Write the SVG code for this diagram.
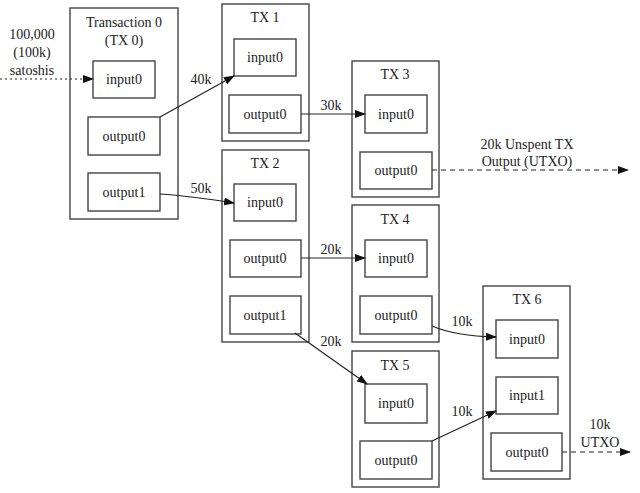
<svg xmlns="http://www.w3.org/2000/svg" width="640" height="493" viewBox="0 0 640 493" font-family="'Liberation Serif', 'Times New Roman', 'DejaVu Serif', serif">
<defs>
<marker id="ah" markerWidth="11" markerHeight="8" refX="10" refY="4" orient="auto" markerUnits="userSpaceOnUse">
<path d="M0,0 L11,4 L0,8 Z" fill="#111"/>
</marker>
<style>
.tx{fill:#fff;stroke:#444;stroke-width:1.4}
.port{fill:#fff;stroke:#444;stroke-width:1.4}
text{font-family:'Liberation Serif','Times New Roman','DejaVu Serif',serif;font-size:14px;fill:#222;text-anchor:middle}
.e{fill:none;stroke:#222;stroke-width:1.2;marker-end:url(#ah)}
.dot{stroke-dasharray:2,3}
.dash{stroke-dasharray:5,4}
</style>
</defs>
<rect width="640" height="493" fill="#fff"/>

<g id="tx0">
<rect class="tx" x="70" y="8" width="108" height="211"/>
<text x="124" y="27">Transaction 0</text>
<text x="124" y="45">(TX 0)</text>
<g id="tx0-input0"><rect class="port" x="93" y="61" width="62" height="37"/><text x="124" y="84">input0</text></g>
<g id="tx0-output0"><rect class="port" x="88" y="117" width="72" height="38"/><text x="124" y="141">output0</text></g>
<g id="tx0-output1"><rect class="port" x="88" y="173" width="72" height="38"/><text x="124" y="197">output1</text></g>
</g>

<g id="tx1">
<rect class="tx" x="222" y="4" width="87" height="137"/>
<text x="265" y="22">TX 1</text>
<g id="tx1-input0"><rect class="port" x="234" y="39" width="62" height="37"/><text x="265" y="62">input0</text></g>
<g id="tx1-output0"><rect class="port" x="229" y="95" width="72" height="38"/><text x="265" y="119">output0</text></g>
</g>

<g id="tx2">
<rect class="tx" x="222" y="150" width="87" height="192"/>
<text x="265" y="168">TX 2</text>
<g id="tx2-input0"><rect class="port" x="234" y="184" width="62" height="37"/><text x="265" y="207">input0</text></g>
<g id="tx2-output0"><rect class="port" x="230" y="240" width="71" height="37"/><text x="265" y="263">output0</text></g>
<g id="tx2-output1"><rect class="port" x="230" y="296" width="71" height="38"/><text x="265" y="320">output1</text></g>
</g>

<g id="tx3">
<rect class="tx" x="352" y="61" width="87" height="136"/>
<text x="395" y="79">TX 3</text>
<g id="tx3-input0"><rect class="port" x="365" y="95" width="62" height="38"/><text x="396" y="119">input0</text></g>
<g id="tx3-output0"><rect class="port" x="360" y="152" width="72" height="37"/><text x="396" y="175">output0</text></g>
</g>

<g id="tx4">
<rect class="tx" x="352" y="205" width="87" height="137"/>
<text x="395" y="224">TX 4</text>
<g id="tx4-input0"><rect class="port" x="365" y="240" width="62" height="37"/><text x="396" y="263">input0</text></g>
<g id="tx4-output0"><rect class="port" x="360" y="296" width="72" height="38"/><text x="396" y="320">output0</text></g>
</g>

<g id="tx5">
<rect class="tx" x="352" y="351" width="87" height="136"/>
<text x="395" y="370">TX 5</text>
<g id="tx5-input0"><rect class="port" x="365" y="384" width="62" height="39"/><text x="396" y="408">input0</text></g>
<g id="tx5-output0"><rect class="port" x="360" y="441" width="72" height="38"/><text x="396" y="465">output0</text></g>
</g>

<g id="tx6">
<rect class="tx" x="483" y="286" width="87" height="193"/>
<text x="527" y="304">TX 6</text>
<g id="tx6-input0"><rect class="port" x="496" y="320" width="62" height="38"/><text x="527" y="344">input0</text></g>
<g id="tx6-input1"><rect class="port" x="496" y="377" width="62" height="37"/><text x="527" y="400">input1</text></g>
<g id="tx6-output0"><rect class="port" x="491" y="433" width="71" height="38"/><text x="527" y="457">output0</text></g>
</g>

<g id="connectors">
<path class="e dot" d="M0,79 L93,79"/>
<path class="e" d="M160,117 L234,76"/>
<path class="e" d="M160,194 Q190,196 234,203"/>
<path class="e" d="M301,114 L365,114"/>
<path class="e dash" d="M432,170 L628,170"/>
<path class="e" d="M301,258 L365,258"/>
<path class="e" d="M295,333 L367,384"/>
<path class="e" d="M432,326 Q455,336 496,337"/>
<path class="e" d="M432,441 L496,411"/>
<path class="e dash" d="M562,452 L630,452"/>
</g>

<g id="labels">
<text x="32" y="39">100,000</text>
<text x="32" y="57">(100k)</text>
<text x="32" y="75">satoshis</text>
<text x="201" y="84">40k</text>
<text x="201" y="193">50k</text>
<text x="331" y="110">30k</text>
<text x="527" y="149">20k Unspent TX</text>
<text x="527" y="166">Output (UTXO)</text>
<text x="331" y="254">20k</text>
<text x="331" y="346">20k</text>
<text x="462" y="326">10k</text>
<text x="462" y="416">10k</text>
<text x="600" y="429">10k</text>
<text x="600" y="447">UTXO</text>
</g>
</svg>
